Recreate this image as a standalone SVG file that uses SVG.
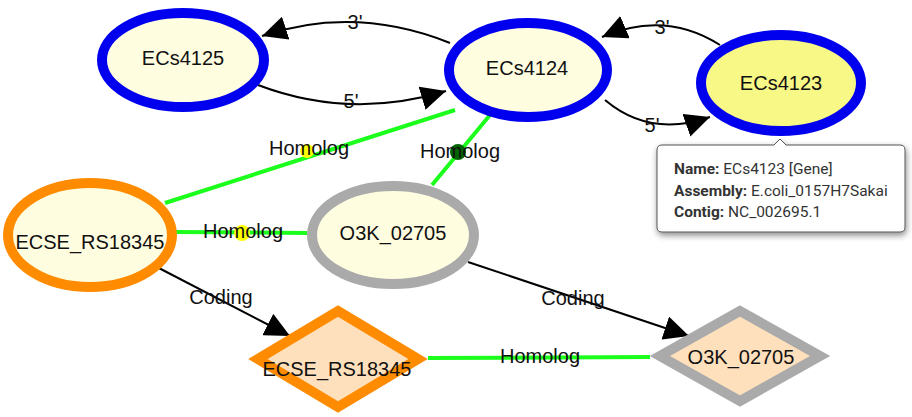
<svg xmlns="http://www.w3.org/2000/svg" width="912" height="417" viewBox="0 0 912 417">
<defs>
<marker id="arr" markerUnits="userSpaceOnUse" markerWidth="26" markerHeight="24" refX="25" refY="12" orient="auto">
<path d="M0,0 L25,12 L0,24 z" fill="#000"/>
</marker>
<filter id="sh" x="-10%" y="-20%" width="125%" height="150%">
<feDropShadow dx="1" dy="3" stdDeviation="3" flood-color="#000" flood-opacity="0.45"/>
</filter>
</defs>
<style>
.lbl{font-family:"Liberation Sans",Arial,sans-serif;font-size:20px;fill:#111;text-anchor:middle;dominant-baseline:central}
.elbl{font-family:"Liberation Sans",Arial,sans-serif;font-size:20px;fill:#111;text-anchor:middle;dominant-baseline:central}
.gene{fill:#fffde0;stroke-width:10}
.cds{fill:#ffe0bd;stroke-width:10}
.blue{stroke:#0000ee}
.orange{stroke:#ff8c00}
.grey{stroke:#aaaaaa}
.hom{stroke:#1cff1c;stroke-width:4;fill:none}
.ctg{stroke:#000;stroke-width:2;fill:none;marker-end:url(#arr)}
.tip{font-family:Roboto,"Liberation Sans",sans-serif;font-size:15.5px;fill:#333}
.tip tspan.b{font-weight:bold}
</style>
<rect width="912" height="417" fill="#fff"/>
<g id="connectors">
<path class="hom" d="M165,203 L455,110"/>
<path class="hom" d="M432,185 L490,115"/>
<path class="hom" d="M176,232 L307,233"/>
<path class="hom" d="M428,358 L650,357"/>
<circle cx="307" cy="151" r="7" fill="#ffff00"/>
<circle cx="458" cy="152" r="8" fill="#006400"/>
<circle cx="242" cy="233" r="8" fill="#ffff00"/>
<path class="ctg" d="M450,43 Q355,5 262,36"/>
<path class="ctg" d="M258,85 Q350,120 446,91"/>
<path class="ctg" d="M720,45 Q665,10 602,37"/>
<path class="ctg" d="M605,100 Q650,138 710,117"/>
<path class="ctg" d="M155,266 L290,336"/>
<path class="ctg" d="M468,262 L689,336"/>
<text class="elbl" x="355" y="22">3'</text>
<text class="elbl" x="351" y="101">5'</text>
<text class="elbl" x="662" y="27">3'</text>
<text class="elbl" x="652" y="125">5'</text>
<text class="elbl" x="309" y="148">Homolog</text>
<text class="elbl" x="460" y="151">Homolog</text>
<text class="elbl" x="243" y="231">Homolog</text>
<text class="elbl" x="540" y="356">Homolog</text>
<text class="elbl" x="221" y="297">Coding</text>
<text class="elbl" x="573" y="298">Coding</text>
</g>
<g id="ECs4125">
<ellipse class="gene blue" cx="183" cy="60" rx="81" ry="47"/>
<text class="lbl" x="183" y="58">ECs4125</text>
</g>
<g id="ECs4124">
<ellipse class="gene blue" cx="528" cy="70" rx="79" ry="47"/>
<text class="lbl" x="527" y="68">ECs4124</text>
</g>
<g id="ECs4123">
<ellipse class="gene blue" cx="781" cy="83" rx="80" ry="48" style="fill:#f8f887"/>
<text class="lbl" x="781" y="83">ECs4123</text>
</g>
<g id="ECSE_RS18345">
<ellipse class="gene orange" cx="90" cy="235" rx="82" ry="52"/>
<text class="lbl" x="90" y="242">ECSE_RS18345</text>
</g>
<g id="O3K_02705">
<ellipse class="gene grey" cx="393" cy="235" rx="81" ry="49"/>
<text class="lbl" x="393" y="233">O3K_02705</text>
</g>
<g id="ECSE_RS18345_cds">
<polygon class="cds orange" points="338,311 418,359 338,407 258,359"/>
<text class="lbl" x="337" y="369">ECSE_RS18345</text>
</g>
<g id="O3K_02705_cds">
<polygon class="cds grey" points="740,311 820,356 740,401 660,356"/>
<text class="lbl" x="741" y="357">O3K_02705</text>
</g>
<g id="tooltip">
<path d="M662,145 L774,145 L780,139 L786,145 L900,145 Q905,145 905,150 L905,227 Q905,232 900,232 L662,232 Q657,232 657,227 L657,150 Q657,145 662,145 z" fill="#fff" stroke="#555" stroke-width="1" filter="url(#sh)"/>
<text class="tip" x="674" y="174"><tspan class="b">Name:</tspan> ECs4123 [Gene]</text>
<text class="tip" x="674" y="196"><tspan class="b">Assembly:</tspan> E.coli_0157H7Sakai</text>
<text class="tip" x="674" y="217"><tspan class="b">Contig:</tspan> NC_002695.1</text>
</g>
</svg>
